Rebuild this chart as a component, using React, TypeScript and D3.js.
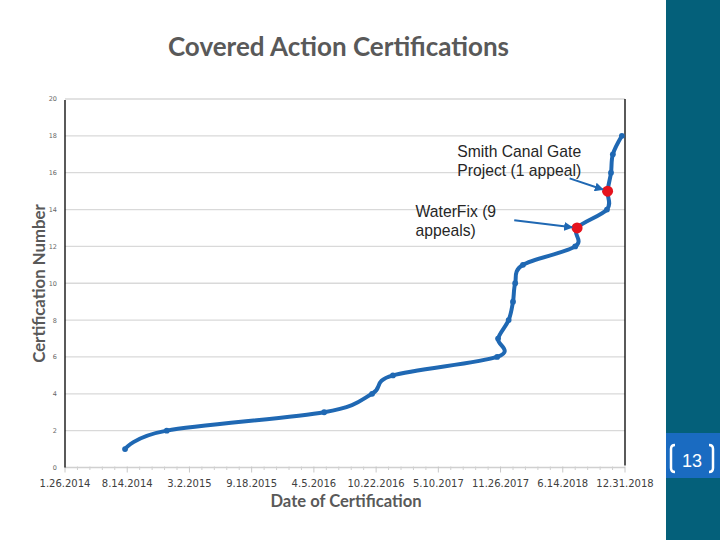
import React from "react";
import * as d3 from "d3";

// ---- data ----
const certDates = [
  "2014-08-07", "2014-12-19", "2016-05-08", "2016-10-09", "2016-12-15",
  "2017-11-15", "2017-11-18", "2017-12-22", "2018-01-05", "2018-01-12",
  "2018-02-06", "2018-07-24", "2018-07-30", "2018-11-03", "2018-11-05",
  "2018-11-16", "2018-11-22", "2018-12-21",
];
const certNumbers = [1, 2, 3, 4, 5, 6, 7, 8, 9, 10, 11, 12, 13, 14, 15, 16, 17, 18];
const highlightedCerts = [13, 15];
const yTickValues = [0, 2, 4, 6, 8, 10, 12, 14, 16, 18, 20];
const xDomainDates = ["2014-01-26", "2018-12-31"];
const xMajorStepDays = 200;
const xMinorStepDays = 40;

const annotationLines = [
  ["Smith Canal Gate", "Project (1 appeal)"],
  ["WaterFix (9", "appeals)"],
];
const annotationTextDates = ["2017-07-10", "2017-02-26"];
const annotationTextValues = [16.83, 13.6];
const annotationArrowDates = ["2018-07-06", "2018-01-09"];
const annotationArrowValues = [15.69, 13.42];
const annotationTargets = [15, 13];

const pageNumber = "13";

// ---- layout ----
const W = 720;
const H = 540;
const plotLeft = 65;
const plotRight = 625;
const plotTop = 99;
const plotBottom = 467.5;

const BLUE = "#1f68b3";
const RED = "#e5131d";
const GRAY = "#595959";

const parse = d3.utcParse("%Y-%m-%d");
const fmt = d3.utcFormat("%-m.%-d.%Y");

export default function App() {
  const d0 = parse(xDomainDates[0])!;
  const d1 = parse(xDomainDates[1])!;
  const x = d3.scaleUtc().domain([d0, d1]).range([plotLeft, plotRight]);
  const y = d3.scaleLinear().domain([0, 20]).range([plotBottom, plotTop]);

  const points = certDates.map((d, i) => ({ date: parse(d)!, value: certNumbers[i] }));

  const line = d3
    .line<{ date: Date; value: number }>()
    .x((p) => x(p.date))
    .y((p) => y(p.value))
    .curve(d3.curveCardinal.tension(0));

  const allDays = d3.utcDay.every(1)!.range(d0, d3.utcDay.offset(d1, 1));
  const dayIndex = (d: Date) => Math.round((+d - +d0) / 864e5);
  const majorTicks = allDays.filter((d) => dayIndex(d) % xMajorStepDays === 0);
  const minorTicks = allDays.filter(
    (d) => dayIndex(d) % xMinorStepDays === 0 && dayIndex(d) % xMajorStepDays !== 0
  );

  return (
    <svg
      width={W}
      height={H}
      style={{ position: "absolute", left: 0, top: 0, background: "#fff" }}
    >
      <defs>
        <marker
          id="arrowhead"
          markerUnits="userSpaceOnUse"
          markerWidth={9}
          markerHeight={9}
          refX={8}
          refY={4.5}
          orient="auto"
        >
          <path d="M0,0 L9,4.5 L0,9 Z" fill={BLUE} />
        </marker>
      </defs>

      {/* title */}
      <text
        x={338.5}
        y={56}
        textAnchor="middle"
        fontFamily="Lato, 'Open Sans', sans-serif"
        fontWeight="bold"
        fontSize={26}
        fill={GRAY}
      >
        Covered Action Certifications
      </text>

      {/* gridlines */}
      {yTickValues.map((v) =>
        v === 0 ? null : (
          <line
            key={"g" + v}
            x1={plotLeft}
            x2={plotRight}
            y1={y(v)}
            y2={y(v)}
            stroke="#d9d9d9"
            strokeWidth={1.3}
          />
        )
      )}

      {/* x axis line and ticks */}
      <line x1={plotLeft} x2={plotRight} y1={plotBottom} y2={plotBottom} stroke="#d0d0d0" strokeWidth={1.3} />
      {minorTicks.map((d, i) => (
        <line key={"mi" + i} x1={x(d)} x2={x(d)} y1={plotBottom - 1} y2={plotBottom + 2.5} stroke="#d0d0d0" strokeWidth={1} />
      ))}
      {majorTicks.map((d, i) => (
        <line key={"ma" + i} x1={x(d)} x2={x(d)} y1={plotBottom - 1} y2={plotBottom + 5} stroke="#c8c8c8" strokeWidth={1} />
      ))}
      {majorTicks.map((d, i) => (
        <text
          key={"xl" + i}
          x={x(d)}
          y={487}
          textAnchor="middle"
          fontFamily="'DejaVu Sans', sans-serif"
          fontSize={10}
          fill="#404040"
        >
          {fmt(d)}
        </text>
      ))}

      {/* y axis */}
      <line x1={plotLeft} x2={plotLeft} y1={plotTop + 1} y2={plotBottom} stroke="#000" strokeWidth={1.3} />
      <line x1={plotRight} x2={plotRight} y1={plotTop} y2={plotBottom - 2} stroke="#000" strokeWidth={1.3} />
      {yTickValues.map((v) => (
        <text
          key={"yl" + v}
          x={57}
          y={y(v) + 2.4}
          textAnchor="end"
          fontFamily="'DejaVu Sans', sans-serif"
          fontSize={6.5}
          fill="#666"
        >
          {v}
        </text>
      ))}

      {/* axis titles */}
      <text
        transform={`translate(44.5,283.5) rotate(-90)`}
        textAnchor="middle"
        fontFamily="Lato, 'Open Sans', sans-serif"
        fontWeight="bold"
        fontSize={16.8}
        fill={GRAY}
      >
        Certification Number
      </text>
      <text
        x={346}
        y={506.5}
        textAnchor="middle"
        fontFamily="Lato, 'Open Sans', sans-serif"
        fontWeight="bold"
        fontSize={16.6}
        fill={GRAY}
      >
        Date of Certification
      </text>

      {/* series */}
      <path d={line(points) || ""} fill="none" stroke={BLUE} strokeWidth={4} strokeLinejoin="round" strokeLinecap="round" />
      {points.map((p, i) => (
        <circle key={"m" + i} cx={x(p.date)} cy={y(p.value)} r={2.9} fill={BLUE} />
      ))}
      {points
        .filter((p) => highlightedCerts.includes(p.value))
        .map((p, i) => (
          <circle key={"r" + i} cx={x(p.date)} cy={y(p.value)} r={5.5} fill={RED} />
        ))}

      {/* annotations */}
      {annotationLines.map((lines, i) => {
        const tx = x(parse(annotationTextDates[i])!);
        const ty = y(annotationTextValues[i]);
        const ax = x(parse(annotationArrowDates[i])!);
        const ay = y(annotationArrowValues[i]);
        const target = points[certNumbers.indexOf(annotationTargets[i])];
        const px = x(target.date);
        const py = y(target.value);
        const dx = px - ax;
        const dy = py - ay;
        const len = Math.hypot(dx, dy);
        const ex = px - (dx / len) * 5;
        const ey = py - (dy / len) * 5;
        return (
          <g key={"a" + i}>
            {lines.map((t, j) => (
              <text
                key={j}
                x={tx}
                y={ty + j * 18.8}
                fontFamily="'Liberation Sans', Arial, sans-serif"
                fontSize={15.7}
                fill="#262626"
              >
                {t}
              </text>
            ))}
            <line x1={ax} y1={ay} x2={ex} y2={ey} stroke={BLUE} strokeWidth={2} markerEnd="url(#arrowhead)" />
          </g>
        );
      })}

      {/* right side panel */}
      <rect x={666} y={0} width={54} height={H} fill="#04607a" />
      <rect x={666} y={433} width={54} height={45} fill="#1a6bc1" />
      <path d="M675,445 Q671,445 671,449 L671,468 Q671,472 675,472" fill="none" stroke="#fff" strokeWidth={2.5} />
      <path d="M709,445 Q713,445 713,449 L713,468 Q713,472 709,472" fill="none" stroke="#fff" strokeWidth={2.5} />
      <text
        x={692}
        y={466.5}
        textAnchor="middle"
        fontFamily="'Liberation Sans', Arial, sans-serif"
        fontSize={18}
        fill="#fff"
      >
        {pageNumber}
      </text>
    </svg>
  );
}
